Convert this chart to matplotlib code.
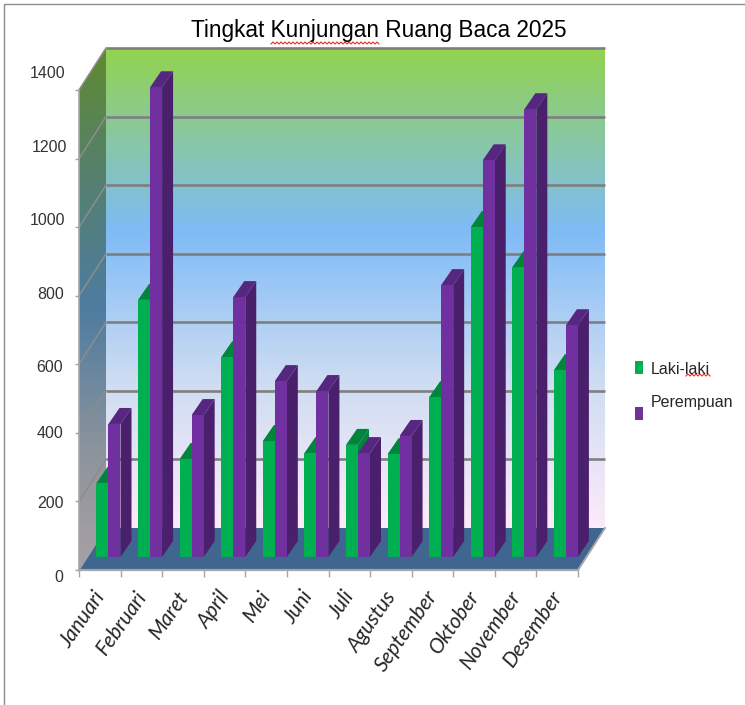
import numpy as np
import matplotlib
matplotlib.use('Agg')
import matplotlib.pyplot as plt
from matplotlib.colors import LinearSegmentedColormap
from matplotlib.lines import Line2D
from matplotlib.patches import Polygon, Rectangle
from matplotlib.transforms import ScaledTranslation

# data
bulan = ['Januari', 'Februari', 'Maret', 'April', 'Mei', 'Juni', 'Juli',
         'Agustus', 'September', 'Oktober', 'November', 'Desember']
laki = [216, 750, 286, 583, 338, 303, 327, 300, 466, 962, 845, 545]
perempuan = [388, 1370, 414, 758, 513, 484, 303, 353, 793, 1157, 1306, 676]
y_ticks = [0, 200, 400, 600, 800, 1000, 1200, 1400]

W, H = 745, 705
px_x = lambda x: x / W
px_y = lambda y: 1 - y / H

# plot box = the front plane of the 3d chart, in pixels
LEFT, RIGHT, BOTTOM, TOP = 79, 578, 570, 90
CAT_PX = (RIGHT - LEFT) / 12
VAL_PX = (BOTTOM - TOP) / 1400
DEPTH_X = 27 / CAT_PX
DEPTH_Y = 42 / VAL_PX
BAR_DX = 11 / CAT_PX
BAR_DY = 16 / VAL_PX
SHIFT_X = 8.7 / CAT_PX
SHIFT_Y = 13 / VAL_PX
BAR_W = 12 / CAT_PX
TOP_Y = 1400 + DEPTH_Y

fig = plt.figure(figsize=(W / 100, H / 100), dpi=100)
ax = fig.add_axes([px_x(LEFT), px_y(BOTTOM), (RIGHT - LEFT) / W, (BOTTOM - TOP) / H])
ax.patch.set_visible(False)
ax.set_xlim(0, 12)
ax.set_ylim(0, 1400)

back_cmap = LinearSegmentedColormap.from_list('back', [
    (0.0, '#FCEBFA'), (0.3, '#CFDDF2'), (0.62, '#7FBBF6'), (0.8, '#88C7A8'), (1.0, '#92D34F')])
side_cmap = LinearSegmentedColormap.from_list('side', [
    (0.0, '#A8A0A6'), (0.22, '#8E949C'), (0.5, '#4E7CA0'), (0.75, '#558070'), (1.0, '#5F8A30')])
gradient = np.linspace(1, 0, 256).reshape(-1, 1)

im = ax.imshow(gradient, cmap=back_cmap, aspect='auto', vmin=0, vmax=1, zorder=0,
               extent=[DEPTH_X, 12 + DEPTH_X, DEPTH_Y, TOP_Y])
im.set_clip_on(False)

side = Polygon([(0, 0), (DEPTH_X, DEPTH_Y), (DEPTH_X, TOP_Y), (0, 1400)],
               transform=ax.transData, facecolor='none', edgecolor='none')
ax.add_patch(side)
side.set_clip_on(False)
im2 = ax.imshow(gradient, cmap=side_cmap, aspect='auto', vmin=0, vmax=1, zorder=0,
                extent=[0, DEPTH_X, 0, TOP_Y])
im2.set_clip_path(side)
im2.set_clip_box(fig.bbox)
ax.set_xlim(0, 12)
ax.set_ylim(0, 1400)

# floor
ax.add_patch(Polygon([(0, 0), (12, 0), (12 + DEPTH_X, DEPTH_Y), (DEPTH_X, DEPTH_Y)],
                     facecolor='#3F6591', edgecolor='none', zorder=1, clip_on=False))

# gridlines on back wall and left wall
for v in y_ticks[1:]:
    ax.plot([DEPTH_X, 12 + DEPTH_X], [v + DEPTH_Y, v + DEPTH_Y], color='#7F7F7F', lw=1.9,
            zorder=2, clip_on=False, solid_capstyle='butt')
    ax.plot([0, DEPTH_X], [v, v + DEPTH_Y], color='#8C8C8C', lw=1.1, zorder=2, clip_on=False)
ax.plot([0, DEPTH_X], [0, DEPTH_Y], color='#A0A0A0', lw=1.0, zorder=2, clip_on=False)
ax.plot([12, 12 + DEPTH_X], [0, DEPTH_Y], color='#A6A6A6', lw=1.4, zorder=2, clip_on=False)
ax.plot([0, 0], [0, 1400], color='#A6A6A6', lw=1.2, zorder=2, clip_on=False)


def bar3d(i, offset, value, front, dark_side, dark_top, z):
    x0 = i + SHIFT_X + (1 - 2 * BAR_W) / 2 + offset * BAR_W
    x1 = x0 + BAR_W
    y0 = SHIFT_Y
    y1 = y0 + value
    ax.add_patch(Polygon([(x1, y0), (x1 + BAR_DX, y0 + BAR_DY), (x1 + BAR_DX, y1 + BAR_DY), (x1, y1)],
                         facecolor=dark_side, edgecolor='none', zorder=z, clip_on=False))
    ax.add_patch(Polygon([(x0, y1), (x1, y1), (x1 + BAR_DX, y1 + BAR_DY), (x0 + BAR_DX, y1 + BAR_DY)],
                         facecolor=dark_top, edgecolor='none', zorder=z, clip_on=False))
    ax.bar(x0, value, width=BAR_W, bottom=y0, align='edge', color=front, zorder=z, clip_on=False)


for i in range(len(bulan)):
    bar3d(i, 0, laki[i], '#00B050', '#00853C', '#00853C', 3 + i * 2)
    bar3d(i, 1, perempuan[i], '#7030A0', '#4A1F6C', '#552780', 4 + i * 2)

# axes
for name, spine in ax.spines.items():
    spine.set_visible(name == 'bottom')
ax.spines['bottom'].set_color('#A6A6A6')
ax.spines['bottom'].set_linewidth(1.6)
ax.set_xticks(np.arange(13))
ax.set_xticklabels([])
ax.set_xticks(np.arange(12) + 0.5, bulan, minor=True, rotation=55, ha='right', va='top',
              rotation_mode='anchor', fontfamily='Lato', fontstyle='italic', fontsize=15,
              color='#262626')
ax.tick_params(axis='x', which='major', length=5, width=1, color='#A6A6A6')
ax.tick_params(axis='x', which='minor', length=0, pad=11)
for lab in ax.get_xticklabels(minor=True):
    lab.set_transform(lab.get_transform() + ScaledTranslation(-0.07, -0.02, fig.dpi_scale_trans))

ax.set_yticks(y_ticks)
ax.set_yticklabels([str(v) for v in y_ticks], fontfamily='Liberation Sans', fontsize=11.5,
                   color='#333333')
ax.tick_params(axis='y', length=3, width=1, color='#A6A6A6', pad=9)
# the y labels sit a little away from their ticks in the original (pixels)
label_dx = [1, 1, 1, 1, 2, 3, 5, 3]
label_dy = [6, 0.6, -0.9, 1.7, -2.7, -8, -12.6, -18]
for lab, dx, dy in zip(ax.get_yticklabels(), label_dx, label_dy):
    lab.set_transform(lab.get_transform() + ScaledTranslation(dx / 100, -dy / 100, fig.dpi_scale_trans))

# outer frame of the screenshot
fig.add_artist(Line2D([px_x(4), px_x(4), px_x(745)], [px_y(705), px_y(4), px_y(4)],
                      color='#8C8C8C', lw=1.0))

fig.text(px_x(378.5), px_y(31), 'Tingkat Kunjungan Ruang Baca 2025', ha='center', va='center',
         fontfamily='Liberation Sans', fontsize=16.3)


def squiggle(x0, x1, y):
    xs = np.arange(x0, x1 + 1, 2)
    ys = y + np.where(np.arange(len(xs)) % 2 == 0, 1, -1)
    fig.add_artist(Line2D(px_x(xs), px_y(ys), color='#E0302A', lw=0.8))


squiggle(271, 379, 43)
squiggle(686, 711, 375)

# legend
for y0, color, label, text_y in [(361, '#00B050', 'Laki-laki', 369), (407, '#7030A0', 'Perempuan', 402)]:
    fig.add_artist(Rectangle((px_x(635), px_y(y0 + 12.5)), 8 / W, 12.5 / H, transform=fig.transFigure,
                             facecolor=color, edgecolor='none'))
    fig.text(px_x(651), px_y(text_y), label, ha='left', va='center',
             fontfamily='Liberation Sans', fontsize=11.5, color='#262626')

fig.savefig('out.png', dpi=100)
